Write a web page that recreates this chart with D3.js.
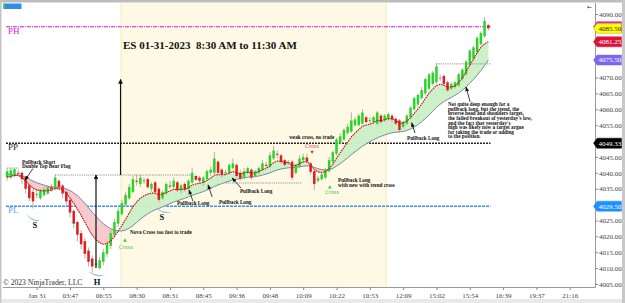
<!DOCTYPE html>
<html><head><meta charset="utf-8">
<script src="https://cdn.jsdelivr.net/npm/d3@7"></script>
<style>body{margin:0;background:#fff}svg{display:block}text{white-space:pre}</style>
</head><body><svg id="c" width="625" height="303"></svg>
<script>
// ---------- DATA ----------
const opens = [4038.5,4038.5,4039,4040,4040,4038.5,4036,4034,4033,4032,4033,4033.5,4035.5,4035,4037.5,4036,4034,4031.5,4028,4024.5,4021,4018.5,4015.5,4013,4011,4010,4012,4014.5,4017,4020.5,4024,4027,4030,4032,4034,4037.5,4036.5,4037.5,4038,4035,4037,4035,4032,4033.5,4036,4035.5,4037,4034.5,4036.5,4035,4037,4039,4038.5,4037,4038,4040,4040,4043.5,4041,4040,4040,4041.5,4042.5,4040,4038.5,4040,4041,4039,4040,4041,4042.5,4042,4044.5,4046,4045.5,4044,4043,4043.5,4040,4042,4044,4044.8,4043,4040.5,4037.5,4038,4038.5,4040.5,4043.5,4046,4049.5,4050.5,4052.5,4053,4055,4055,4055.5,4057.5,4056.5,4056,4055.5,4058,4056.5,4057,4058,4057,4056.5,4054.5,4055.5,4057.5,4060,4061.5,4063.5,4065,4066.5,4068,4068.5,4070,4070.5,4068.5,4066.5,4067,4067.5,4069.5,4071,4074,4076,4078,4080.5,4083,4086.5];
const highs = [4041.5,4041.5,4041.6,4041,4040.5,4039,4036.5,4035,4035,4035,4035.5,4036,4036.5,4039.5,4038,4036.5,4034.5,4032,4028.5,4025,4022,4019.5,4016.5,4014,4013,4013.5,4016,4018.5,4022,4025.5,4029,4031.5,4034,4036.5,4039,4039.5,4039.5,4038.5,4038.5,4037,4037.5,4035.5,4034.5,4037,4037.5,4038.5,4037.5,4036.5,4037,4038,4041.5,4039.5,4039,4039,4041,4042,4046.5,4044,4041.5,4041,4043,4044.5,4043,4041,4041.5,4042,4041.5,4041,4042,4044,4043.5,4046.5,4048.5,4047,4046,4044.5,4044,4044,4043,4045.5,4046,4046,4043.5,4041,4039,4040,4041.5,4045,4047,4051,4052.5,4054,4055.5,4059,4057.5,4058.5,4060,4058,4057.5,4058,4059.5,4058.5,4058.5,4059,4058.5,4057.5,4057,4056.5,4058.5,4061,4064,4065,4067,4070,4071.5,4072,4074.5,4071,4071,4069,4068.5,4069,4071.5,4073,4075.5,4079,4080,4083,4084.5,4089,4087];
const lows = [4037.5,4038,4038.5,4039,4036.5,4033.5,4031,4028.8,4032,4031.5,4032.5,4033,4034,4034.5,4034.5,4032,4029.5,4026,4022.5,4018.5,4016,4013,4010.5,4008.5,4010,4009.5,4011,4013.5,4016,4020,4023,4026.5,4029.5,4031.5,4033.5,4036,4035.5,4036.5,4035,4034,4033.5,4030.8,4031.5,4033,4035,4035,4034,4033.5,4034,4034.5,4036.5,4037.5,4036.5,4036,4037.5,4039,4039.5,4039.5,4038.5,4039,4039.5,4041,4038.5,4037.5,4038,4039.5,4037.8,4038.5,4039.5,4040.5,4041.5,4041.5,4044,4044.5,4043,4042,4042.5,4037.7,4039.5,4041.5,4043,4043,4039.5,4034.6,4037,4037.5,4038,4040,4043,4045.5,4049,4050,4052,4052.5,4054.5,4054.5,4055,4055.5,4055.5,4055.5,4055,4055.5,4056,4056.5,4056,4055,4052.5,4054,4055,4057,4059.5,4061,4063,4064.5,4066,4067.5,4068,4069,4067.5,4065.5,4066,4066.5,4067,4069,4070.5,4073.5,4075.5,4077.5,4080,4082.5,4084.8];
const closes = [4040.5,4040.8,4041.2,4039.8,4038,4035,4032,4031,4033.3,4034.5,4034.8,4035.5,4034.8,4038.5,4035.5,4033.5,4031,4027.5,4024,4020.5,4017.5,4014.5,4012,4010.5,4011.5,4012.5,4015,4017.5,4021,4024.5,4028,4030.5,4033,4035.5,4038,4037.3,4038.5,4037.7,4035.5,4036.5,4034,4031.5,4034,4036.5,4035.8,4037.5,4034.5,4036,4034.8,4037.5,4040,4037.8,4037.5,4038.5,4040.5,4041,4044.5,4040,4039.5,4040.2,4042.5,4043,4039,4038.2,4040.5,4041.5,4038.5,4040.5,4041.5,4043,4042.3,4045.5,4047,4045.8,4043.5,4042.5,4043.2,4038.5,4042.5,4044.5,4045,4043.5,4040.3,4036.5,4038.3,4039.5,4041,4044,4046.5,4050.5,4051.5,4053.5,4054.5,4056.5,4056.8,4058,4059,4056,4056.6,4057.5,4059,4056,4058,4058.5,4056.8,4055.5,4053.5,4056,4058,4060.5,4063.5,4064.5,4066,4069.5,4071,4071.5,4073.5,4070,4068,4066,4068,4068.5,4071,4072.5,4075,4078.5,4079.5,4082.5,4084,4087.8,4085.5];
const fastLine = [4038.7,4038.9,4039.2,4039.2,4038.6,4037.5,4036.2,4035.2,4034.6,4034.4,4034.3,4034.4,4034.5,4035.1,4035.0,4034.6,4033.6,4032.1,4030.4,4028.6,4026.6,4024.5,4022.4,4020.4,4019.0,4018.0,4017.5,4017.7,4018.6,4019.9,4021.6,4023.4,4025.3,4027.3,4029.3,4030.8,4032.0,4032.8,4033.3,4033.6,4033.6,4033.1,4033.3,4033.8,4034.3,4034.8,4034.7,4034.8,4034.8,4035.3,4036.1,4036.5,4036.7,4037.0,4037.6,4038.3,4039.3,4039.4,4039.4,4039.5,4039.9,4040.4,4040.1,4039.7,4039.9,4040.3,4039.9,4040.0,4040.4,4041.0,4041.4,4042.2,4043.2,4043.7,4043.6,4043.3,4043.3,4042.3,4042.3,4042.9,4043.5,4043.5,4042.6,4041.0,4040.3,4040.1,4040.3,4041.3,4042.7,4044.6,4046.3,4048.0,4049.6,4051.3,4052.5,4053.6,4054.7,4055.0,4055.3,4055.8,4056.5,4056.4,4056.7,4057.1,4057.0,4056.6,4055.6,4055.7,4056.3,4057.3,4058.7,4060.1,4061.6,4063.4,4065.1,4066.4,4067.5,4067.9,4067.6,4067.0,4067.0,4067.3,4068.5,4070.0,4071.9,4073.8,4075.8,4077.8,4079.5,4080.6,4081.25];
const slowLine = [4039.6,4039.5,4039.4,4039.3,4039.1,4038.6,4038.0,4037.4,4036.9,4036.5,4036.1,4035.8,4035.6,4035.5,4035.4,4035.2,4034.9,4034.4,4033.7,4032.8,4031.7,4030.4,4029.0,4027.6,4026.3,4025.1,4024.0,4023.1,4022.4,4021.9,4021.7,4021.7,4022.0,4022.6,4023.4,4024.4,4025.4,4026.3,4027.1,4027.8,4028.4,4028.8,4029.3,4029.8,4030.3,4030.8,4031.2,4031.6,4032.0,4032.4,4032.9,4033.3,4033.7,4034.1,4034.6,4035.1,4035.7,4036.2,4036.6,4037.0,4037.4,4037.8,4038.0,4038.2,4038.4,4038.6,4038.7,4038.8,4039.0,4039.3,4039.6,4040.0,4040.5,4040.9,4041.2,4041.4,4041.6,4041.6,4041.7,4041.9,4042.1,4042.2,4042.1,4041.7,4041.3,4041.0,4040.9,4041.0,4041.4,4042.1,4042.9,4043.8,4044.7,4045.7,4046.6,4047.5,4048.4,4049.1,4049.8,4050.4,4051.0,4051.5,4051.9,4052.3,4052.6,4052.8,4052.9,4053.0,4053.3,4053.8,4054.4,4055.2,4056.1,4057.1,4058.2,4059.4,4060.6,4061.6,4062.4,4063.1,4063.7,4064.4,4065.1,4066.0,4067.0,4068.2,4069.4,4070.8,4072.2,4073.7,4075.5];
const timeLabels = ["Jan 31","03:47","06:55","08:30","08:31","08:45","09:36","09:48","10:09","10:22","10:53","12:09","15:02","15:54","16:39","19:37","21:16"];
const timeTickBars = [8,17,26,35,44,53,62,71,80,89,98,107,116,125,134,143,152];
const priceTicks = [4005,4010,4015,4020,4025,4030,4035,4040,4045,4050,4055,4060,4065,4070,4075,4080,4085,4090];
const levelNames = ["PH","PP","PL"];
const levelValues = [4086.0,4049.33,4029.50];
const flagValues = [4086.0,4085.50,4081.25,4075.50,4049.33,4029.50];
const flagLabels = ["","4085.50","4081.25","4075.50","4049.33","4029.50"];
const sessionBars = [30.78,102.4];
const titleText = "ES 01-31-2023  8:30 AM to 11:30 AM";

// ---------- SCALES ----------
const svg = d3.select("#c");
const x = d3.scaleLinear().domain([8,152]).range([36.7,569.7]);
const y = d3.scaleLinear().domain([4005,4090]).range([284,14]);
const plotL = 3, plotR = 595.5, plotT = 3, plotB = 287.5;
const serif = "'Liberation Serif','Times New Roman',serif";

// frame
svg.append("rect").attr("x",0).attr("y",0).attr("width",625).attr("height",303).attr("fill","#fff");
svg.append("rect").attr("x",x(sessionBars[0])).attr("y",plotT).attr("width",x(sessionBars[1])-x(sessionBars[0])).attr("height",plotB-plotT).attr("fill","#fef9e4");
[sessionBars[0],sessionBars[1]].forEach(b=>svg.append("line").attr("x1",x(b)).attr("x2",x(b)).attr("y1",plotT).attr("y2",plotB).attr("stroke","#f6e7a6").attr("stroke-width",0.8));

// level lines
const levelStyle = [{c:"#e010e0",d:"4,1,1,1",w:1.1,lc:"#e010e0"},{c:"#222",d:"2,1",w:1.4,lc:"#222"},{c:"#3a8ff0",d:"3,1",w:1.4,lc:"#5aa2ee"}];
levelValues.forEach((v,k)=>{
  svg.append("line").attr("x1",x(-0.3)).attr("x2",x(130.6)).attr("y1",y(v)).attr("y2",y(v))
    .attr("stroke",levelStyle[k].c).attr("stroke-width",levelStyle[k].w).attr("stroke-dasharray",levelStyle[k].d);
  svg.append("text").attr("x",8).attr("y",y(v)+7).attr("font-family",serif).attr("font-size",9)
    .attr("fill",levelStyle[k].lc).text(levelNames[k]);
});

// ribbon
const n = closes.length;
const gRib = svg.append("g");
function poly(pts,up){
  gRib.append("path").attr("d","M"+pts.map(p=>p.join(",")).join("L")+"Z")
    .attr("fill",up?"#cdf0c8":"#f7c9cd").attr("stroke",up?"#cdf0c8":"#f7c9cd").attr("stroke-width",0.4);
}
for(let i=0;i<n-1;i++){
  const d0=fastLine[i]-slowLine[i], d1=fastLine[i+1]-slowLine[i+1];
  const x0=x(i), x1=x(i+1);
  if(d0*d1>=0){
    poly([[x0,y(fastLine[i])],[x1,y(fastLine[i+1])],[x1,y(slowLine[i+1])],[x0,y(slowLine[i])]],(d0+d1)>=0);
  } else {
    const t=d0/(d0-d1), xc=x0+t*(x1-x0), yc=y(fastLine[i]+t*(fastLine[i+1]-fastLine[i]));
    poly([[x0,y(fastLine[i])],[xc,yc],[x0,y(slowLine[i])]],d0>0);
    poly([[xc,yc],[x1,y(fastLine[i+1])],[x1,y(slowLine[i+1])]],d1>0);
  }
}
const lineGen = arr => d3.line().x((d,i)=>x(i)).y(d=>y(d))(arr);
svg.append("path").attr("d",lineGen(slowLine)).attr("fill","none").attr("stroke","#7d8aa6").attr("stroke-width",1);

// candles
const gC = svg.append("g");
for(let i=0;i<n;i++){
  const o=opens[i],c=closes[i],h=highs[i],l=lows[i];
  gC.append("line").attr("x1",x(i)).attr("x2",x(i)).attr("y1",y(h)).attr("y2",y(l)).attr("stroke","#a8a8a8").attr("stroke-width",0.9);
  const col = c>o ? "#27d627" : (c<o ? "#e01c1c" : "#9a9a9a");
  const top=y(Math.max(o,c)), hh=Math.max(1,Math.abs(y(o)-y(c)));
  gC.append("rect").attr("x",x(i)-1.25).attr("y",top).attr("width",2.5).attr("height",hh).attr("fill",col);
}
svg.append("path").attr("d",lineGen(fastLine)).attr("fill","none").attr("stroke","#c41414").attr("stroke-width",1.1).attr("stroke-dasharray","1.6,0.8");

// dotted reference lines
const refLines = [[0,3.2,4041.5],[13,49.7,4039.3],[59,79.5,4036.8],[116,130.6,4074.3]];
refLines.forEach(r=>svg.append("line").attr("x1",x(r[0])).attr("x2",x(r[1])).attr("y1",y(r[2])).attr("y2",y(r[2]))
  .attr("stroke","#888").attr("stroke-width",0.9).attr("stroke-dasharray","1.2,1"));

// arrow marker
const defs = svg.append("defs");
defs.append("marker").attr("id","ah").attr("viewBox","0 0 10 10").attr("refX",9).attr("refY",5)
  .attr("markerWidth",4).attr("markerHeight",4).attr("orient","auto")
  .append("path").attr("d","M0,0L10,5L0,10Z").attr("fill","#111");
defs.append("marker").attr("id","ahs").attr("viewBox","0 0 10 10").attr("refX",9).attr("refY",5)
  .attr("markerWidth",6).attr("markerHeight",6).attr("orient","auto")
  .append("path").attr("d","M0,1L10,5L0,9Z").attr("fill","#111");
function arrow(i1,p1,i2,p2,big){
  svg.append("line").attr("x1",x(i1)).attr("y1",y(p1)).attr("x2",x(i2)).attr("y2",y(p2))
    .attr("stroke","#111").attr("stroke-width",big?1.2:0.8).attr("marker-end",big?"url(#ah)":"url(#ahs)");
}
// measured move arrows
arrow(24.02,4010.0,24.02,4039.3,true);
arrow(30.65,4039.3,30.65,4069.4,true);

// annotation arrows
arrow(7.0,4041.35,4.84,4037.7);
arrow(50.2,4031.1,49.15,4034.6);
arrow(55.4,4032.4,54.3,4036.2);
arrow(63.2,4035.2,60.8,4038.4);
arrow(110.2,4052.5,109.3,4055.8);
arrow(125.1,4062.3,124.0,4067.0);

// annotation texts
const notes = [
  {i:4.03,p:4042.9,lines:["Pullback Short","Double Top Bear Flag"]},
  {i:33.2,p:4020.6,lines:["Nova Cross too fast to trade"]},
  {i:45.9,p:4030.0,lines:["Pullback Long"]},
  {i:57.25,p:4030.3,lines:["Pullback Long"]},
  {i:62.9,p:4033.8,lines:["Pullback Long"]},
  {i:76.2,p:4050.8,lines:["weak cross, no trade"]},
  {i:89.4,p:4037.0,lines:["Pullback Long","with new with trend cross"]},
  {i:108.05,p:4050.2,lines:["Pullback Long"]},
  {i:119.1,p:4061.0,lines:["Not quite deep enough for a","pullback long, but the trend, the","inverse head and shoulders target,","the failed breakout of yesterday's low,","and the fact that yesterday's","high was likely now a target argue","for taking the trade or adding","to the position."]}
];
notes.forEach(nt=>{
  const t = svg.append("text").attr("font-family",serif).attr("font-weight","bold").attr("font-size",5.2).attr("fill","#111");
  nt.lines.forEach((ln,k)=>t.append("tspan").attr("x",x(nt.i)).attr("y",y(nt.p)+k*4.6).text(ln));
});

// cross markers
const crosses = [{i:31.86,p:4018.8,up:true,ti:30.2,tp:4016.0},{i:82.4,p:4046.5,up:false,ti:80.5,tp:4047.9},{i:87.2,p:4035.5,up:true,ti:85.9,tp:4033.3}];
crosses.forEach(c=>{
  const cx=x(c.i), cy=y(c.p), col=c.up?"#3cc83c":"#e03c50";
  svg.append("path").attr("d",c.up?`M${cx-1.8},${cy+1.5}L${cx+1.8},${cy+1.5}L${cx},${cy-1.8}Z`:`M${cx-1.8},${cy-1.5}L${cx+1.8},${cy-1.5}L${cx},${cy+1.8}Z`).attr("fill",col);
  svg.append("text").attr("x",x(c.ti)).attr("y",y(c.tp)).attr("font-family","'DejaVu Sans',sans-serif").attr("font-size",5.2).attr("fill",col).text("Cross");
});

// H & S swoosh marks
const swoosh = [[5.1,4027.0,8.9,4025.1],[21.6,4009.1,26.7,4007.8],[40.0,4029.2,44.3,4027.7]];
swoosh.forEach(s=>{
  const x1=x(s[0]),y1=y(s[1]),x2=x(s[2]),y2=y(s[3]);
  const mx=(x1+x2)/2, my=Math.max(y1,y2);
  svg.append("path").attr("d",`M${x1},${y1}Q${mx},${my+3.5} ${x2},${y2}Q${mx},${my+1} ${x1},${y1}Z`).attr("fill","#8fbdee");
});
const hsLabels = [{i:7.5,p:4022.6,t:"S"},{i:41.85,p:4025.3,t:"S"},{i:24.3,p:4004.6,t:"H"}];
hsLabels.forEach(h=>svg.append("text").attr("x",x(h.i)).attr("y",y(h.p)).attr("text-anchor","middle")
  .attr("font-family",serif).attr("font-weight","bold").attr("font-size",8.5).attr("fill","#111").text(h.t));

// title
svg.append("text").attr("x",x(31.3)).attr("y",49).attr("font-family",serif).attr("font-weight","bold")
  .attr("font-size",11).attr("fill","#111").text(titleText);

// copyright
svg.append("text").attr("x",3).attr("y",284.5).attr("font-family",serif).attr("font-size",7.6).attr("fill","#333").text("© 2023 NinjaTrader, LLC");

// axes
svg.append("line").attr("x1",plotL).attr("x2",plotR).attr("y1",plotB).attr("y2",plotB).attr("stroke","#9a9a9a").attr("stroke-width",1);
svg.append("line").attr("x1",plotR).attr("x2",plotR).attr("y1",plotT).attr("y2",plotB).attr("stroke","#9a9a9a").attr("stroke-width",1);
// price tick labels hidden where a price flag covers them
const visibleTicks = priceTicks.filter(t=>flagValues.every(f=>Math.abs(y(t)-y(f))>=5.5));
const yAxis = d3.axisRight(y).tickValues(visibleTicks).tickFormat(d3.format(".2f")).tickSize(2.5).tickPadding(1);
const gy = svg.append("g").attr("transform",`translate(${plotR},0)`).call(yAxis);
gy.select(".domain").remove();
gy.selectAll("text").attr("font-family",serif).attr("font-size",7).attr("fill","#444");
gy.selectAll("line").attr("stroke","#888");
const xAxis = d3.axisBottom(x).tickValues(timeTickBars).tickFormat((d,k)=>timeLabels[k]).tickSize(2.5).tickPadding(3);
const gx = svg.append("g").attr("transform",`translate(0,${plotB})`).call(xAxis);
gx.select(".domain").remove();
gx.selectAll("text").attr("font-family",serif).attr("font-size",7).attr("fill","#444");
gx.selectAll("line").attr("stroke","#888");

// flags
const flagFill = ["#e010e0","#ffff00","#dc143c","#7b68ee","#000000","#1e90ff"];
const flagText = ["#fff","#222","#fff","#fff","#fff","#fff"];
flagValues.forEach((v,k)=>{
  const fy=y(v);
  svg.append("path").attr("d",`M${plotR-2},${fy}L${plotR+1.5},${fy-5}L${621.5},${fy-5}L${621.5},${fy+5}L${plotR+1.5},${fy+5}Z`)
    .attr("fill",flagFill[k]).attr("stroke",k===1?"#b0a000":flagFill[k]).attr("stroke-width",0.5);
  if(flagLabels[k]) svg.append("text").attr("x",598.5).attr("y",fy+2.4).attr("font-family",serif).attr("font-size",7).attr("fill",flagText[k]).text(flagLabels[k]);
});

// chrome
svg.append("rect").attr("x",0).attr("y",0).attr("width",625).attr("height",2.5).attr("fill","#bdbdbd");
svg.append("rect").attr("x",0).attr("y",0).attr("width",1.5).attr("height",303).attr("fill","#c4c4c4");
svg.append("rect").attr("x",622).attr("y",0).attr("width",3).attr("height",303).attr("fill","#c8c8c8");
svg.append("rect").attr("x",1.5).attr("y",299).attr("width",620.5).attr("height",4).attr("fill","#e9e9e9");
svg.append("rect").attr("x",3.5).attr("y",3.5).attr("width",18).attr("height",5.5).attr("fill","#2f8fe8");
svg.append("rect").attr("x",3.5).attr("y",3.5).attr("width",1.5).attr("height",5.5).attr("fill","#3c3");
svg.append("text").attr("x",587).attr("y",8.5).attr("font-family","'DejaVu Sans',sans-serif").attr("font-size",6).attr("fill","#333").text("←");
</script>
</body></html>
